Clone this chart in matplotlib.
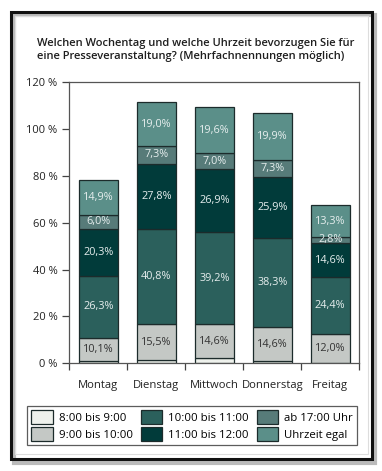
import matplotlib.pyplot as plt
from matplotlib.patches import Rectangle
import numpy as np

plt.rcParams['font.family'] = ['Open Sans', 'DejaVu Sans']

tage = ['Montag', 'Dienstag', 'Mittwoch', 'Donnerstag', 'Freitag']
serien = ['8:00 bis 9:00', '9:00 bis 10:00', '10:00 bis 11:00',
          '11:00 bis 12:00', 'ab 17:00 Uhr', 'Uhrzeit egal']

# Werte in Prozent (8-9 Uhr ohne Beschriftung, aus dem Bild geschätzt)
w_8_9 = [0.8, 1.2, 2.1, 0.8, 0.3]
w_9_10 = [10.1, 15.5, 14.6, 14.6, 12.0]
w_10_11 = [26.3, 40.8, 39.2, 38.3, 24.4]
w_11_12 = [20.3, 27.8, 26.9, 25.9, 14.6]
w_ab17 = [6.0, 7.3, 7.0, 7.3, 2.8]
w_egal = [14.9, 19.0, 19.6, 19.9, 13.3]

werte = [w_8_9, w_9_10, w_10_11, w_11_12, w_ab17, w_egal]
farben = ['#eef1ec', '#c4c8c5', '#2b605c', '#013b3a', '#577b79', '#5b8f89']
text_farben = [None, '#333333', '#e6eeee', '#e6eeee', '#e6eeee', '#e6eeee']

fig = plt.figure(figsize=(3.82, 4.71), dpi=100)
ax = fig.add_axes([0.1814, 0.2287, 0.759, 0.5966])

x = np.arange(len(tage))
unten = np.zeros(len(tage))
for werte_serie, farbe, tf, name in zip(werte, farben, text_farben, serien):
    werte_serie = np.array(werte_serie)
    ax.bar(x, werte_serie, width=0.67, bottom=unten, color=farbe,
           edgecolor='#1c2b2b', linewidth=0.9, label=name)
    if tf is not None:
        for xi, b, v in zip(x, unten, werte_serie):
            ax.text(xi, b + v / 2, f'{v:.1f}%'.replace('.', ','),
                    ha='center', va='center', fontsize=7.8, color=tf)
    unten += werte_serie

ax.set_xlim(-0.5, len(tage) - 0.5)
ax.set_ylim(0, 120)
ax.set_yticks(range(0, 121, 20))
ax.set_yticklabels([f'{v} %' for v in range(0, 121, 20)])
ax.set_xticks(x)
ax.set_xticklabels(tage)
ax.set_xticks(np.arange(-0.5, len(tage)), minor=True)
ax.tick_params(axis='x', which='major', length=0, pad=12, labelsize=8.1, colors='#222222')
ax.tick_params(axis='x', which='minor', length=5, width=0.9, color='#444444')
ax.tick_params(axis='y', length=5, width=0.9, color='#444444', labelsize=8, labelcolor='#222222')
for s in ax.spines.values():
    s.set_color('#555555')
    s.set_linewidth(0.9)

fig.text(0.097, 0.894, 'Welchen Wochentag und welche Uhrzeit bevorzugen Sie für\n'
         'eine Presseveranstaltung? (Mehrfachnennungen möglich)',
         ha='left', va='center', fontsize=8.05, fontweight='semibold',
         color='#1e1e1e', linespacing=1.3)

leg = fig.legend(loc='center', ncol=3, fontsize=8.2, frameon=True, fancybox=False,
                 bbox_to_anchor=(0.07, 0.048, 0.865, 0.097), mode='expand',
                 handlelength=1.9, handleheight=1.5, handletextpad=0.5,
                 columnspacing=0.5, labelspacing=0.25, borderaxespad=0,
                 borderpad=0.4)
leg.get_frame().set_edgecolor('#333333')
leg.get_frame().set_linewidth(0.9)

# Rahmen mit Schatten
fig.patches.append(Rectangle((0.036, 0.018), 0.945, 0.951, transform=fig.transFigure,
                             facecolor='none', edgecolor='#bbbbbb', linewidth=3, zorder=0))
fig.patches.append(Rectangle((0.029, 0.025), 0.944, 0.949, transform=fig.transFigure,
                             facecolor='none', edgecolor='#111111', linewidth=2.2, zorder=1))
fig.patches.append(Rectangle((0.04, 0.037), 0.924, 0.928, transform=fig.transFigure,
                             facecolor='none', edgecolor='#dddddd', linewidth=0.8, zorder=1))

fig.savefig('out.png', dpi=100)
